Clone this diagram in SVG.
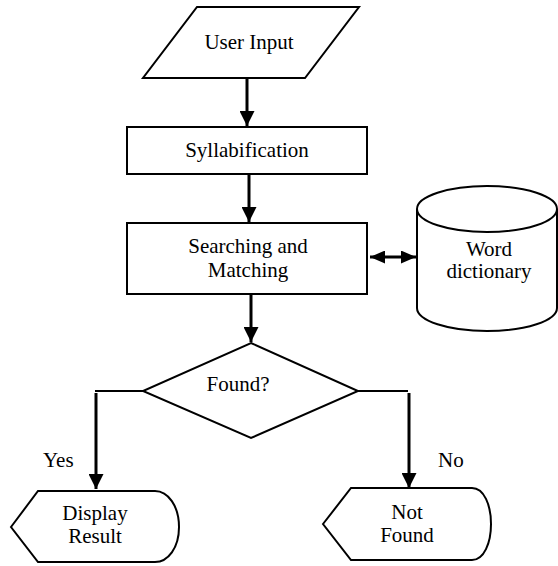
<svg xmlns="http://www.w3.org/2000/svg" width="558" height="566" viewBox="0 0 558 566">
  <defs>
    <style>
      .shape { fill: #ffffff; stroke: #000000; stroke-width: 2; }
      .edge { fill: none; stroke: #000000; stroke-width: 3; }
      .thin { fill: none; stroke: #000000; stroke-width: 2; }
      text { font-family: "Liberation Serif", Tinos, "Nimbus Roman", "Times New Roman", Times, "DejaVu Serif", serif; font-size: 21px; fill: #000000; }
      .c { text-anchor: middle; }
    </style>
    <marker id="head" viewBox="0 0 15 15" refX="15" refY="7.5" markerWidth="15" markerHeight="15" markerUnits="userSpaceOnUse" orient="auto">
      <path d="M0,0 L15,7.5 L0,15 Z" fill="#000000"/>
    </marker>
    <marker id="headStart" viewBox="0 0 15 13" refX="0" refY="6.5" markerWidth="15" markerHeight="13" markerUnits="userSpaceOnUse" orient="auto">
      <path d="M15,0 L0,6.5 L15,13 Z" fill="#000000"/>
    </marker>
    <marker id="headEnd" viewBox="0 0 15 13" refX="15" refY="6.5" markerWidth="15" markerHeight="13" markerUnits="userSpaceOnUse" orient="auto">
      <path d="M0,0 L15,6.5 L0,13 Z" fill="#000000"/>
    </marker>
  </defs>

  <rect width="558" height="566" fill="#ffffff"/>

  <!-- connectors -->
  <g id="connectors">
    <line class="edge" x1="247" y1="78" x2="247" y2="126" marker-end="url(#head)"/>
    <line class="edge" x1="249" y1="174" x2="249" y2="222" marker-end="url(#head)"/>
    <line class="edge" x1="370" y1="257" x2="416" y2="257" marker-start="url(#headStart)" marker-end="url(#headEnd)"/>
    <line class="edge" x1="251" y1="295" x2="251" y2="342" marker-end="url(#head)"/>
    <line class="thin" x1="143" y1="391" x2="95" y2="391"/>
    <line class="edge" x1="96" y1="393" x2="96" y2="489" marker-end="url(#head)"/>
    <line class="thin" x1="358" y1="391" x2="408" y2="391"/>
    <line class="edge" x1="409" y1="393" x2="409" y2="488" marker-end="url(#head)"/>
    <text x="43" y="467" font-family="Liberation Serif, serif">Yes</text>
    <text x="438" y="467" font-family="Liberation Serif, serif">No</text>
  </g>

  <!-- input -->
  <g id="user-input">
    <polygon class="shape" points="197,7 359,7 305,78 143,78"/>
    <text class="c" x="249" y="49">User Input</text>
  </g>

  <!-- syllabification step -->
  <g id="syllabification">
    <rect class="shape" x="127" y="127" width="240" height="47"/>
    <text class="c" x="247" y="157">Syllabification</text>
  </g>

  <!-- search step -->
  <g id="searching">
    <rect class="shape" x="127" y="223" width="240" height="71"/>
    <text class="c" x="248" y="253">Searching and</text>
    <text class="c" x="248" y="277">Matching</text>
  </g>

  <!-- dictionary store -->
  <g id="dictionary">
    <path class="shape" d="M417,209 L417,308 A70,23 0 0 0 557,308 L557,209"/>
    <ellipse class="shape" cx="487" cy="209" rx="70" ry="23"/>
    <text class="c" x="489" y="256">Word</text>
    <text class="c" x="489" y="278">dictionary</text>
  </g>

  <!-- decision -->
  <g id="found">
    <polygon class="shape" points="251,343 358,391 251,438 143,391"/>
    <text class="c" x="238" y="391">Found?</text>
  </g>

  <!-- outputs -->
  <g id="display-result">
    <path class="shape" d="M11,527 L38,491 L155,491 C168,491 179,506 179,527 C179,548 168,562 155,562 L38,562 Z"/>
    <text class="c" x="95" y="520">Display</text>
    <text class="c" x="95" y="543">Result</text>
  </g>

  <g id="not-found">
    <path class="shape" d="M323,524 L351,488 L472,488 C484,488 491,505 491,524 C491,543 484,560 472,560 L351,560 Z"/>
    <text class="c" x="407" y="519">Not</text>
    <text class="c" x="407" y="542">Found</text>
  </g>
</svg>
